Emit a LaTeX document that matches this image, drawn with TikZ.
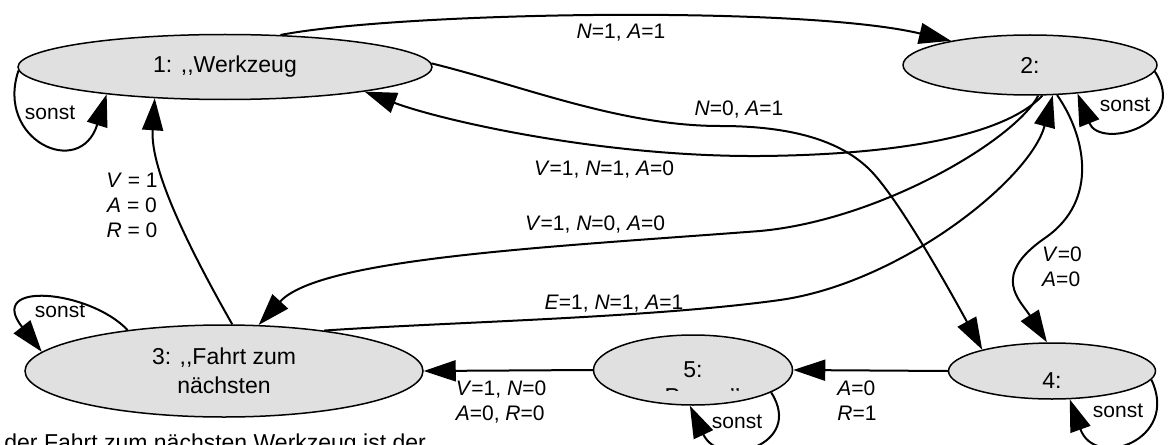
\documentclass[tikz,border=0pt]{standalone}
\usepackage{fontspec}
\setmainfont{Liberation Sans}
\usetikzlibrary{shapes.geometric,arrows.meta}
\newcommand{\vn}[1]{\textit{#1}}
\newcommand{\opq}{,\kern0pt,}
\newcommand{\clq}{'\kern0pt'}

\begin{document}
\begin{tikzpicture}[
                x=0.5pt, y=-0.5pt,
                state/.style={
                    draw=black,
                    fill=black!12,
                    ellipse,
                    line width=0.75pt,
                    inner sep=0pt,
                    align=center,
                    font=\fontsize{11.5}{14.5}\selectfont
                },
                plaintext/.style={
                    inner sep=0pt,
                    font=\fontsize{11.5}{14.5}\selectfont
                },
                lbl/.style={
                    inner sep=0pt,
                    align=left,
                    font=\fontsize{10.5}{12.5}\selectfont
                },
                arrow/.style={
                    -{Triangle[length=16pt,width=10.5pt]},
                    line width=1pt
                }
            ]
                \useasboundingbox (0,0) rectangle (1170,444);

                \node[state, minimum width=207pt, minimum height=32.5pt] (s1) at (225,67)  {1: \opq Werkzeug};
                \node[state, minimum width=127pt, minimum height=30pt]   (s2) at (1030,65) {2:};
                \node[state, minimum width=199pt, minimum height=46pt]   (s3) at (224,371) {3: \opq Fahrt zum\\nächsten};
                \node[state, minimum width=99.5pt, minimum height=35pt]  (s5) at (693,370) {5:};
                \node[state, minimum width=103.5pt, minimum height=28pt, text height=17pt, text depth=0pt] (s4) at (1052,371) {4:};

                \begin{scope}
                    \clip (594,300) rectangle (800,390);
                    \node[plaintext, anchor=base] (s5b) at (696,404) {\opq Pause\clq};
                \end{scope}

                \draw[arrow] (s1.30) .. controls (400,12) and (800,5) .. (s2.163);
                \draw[arrow] (s1.1) .. controls (520,85) and (620,126) .. (720,126) .. controls (790,126) and (840,140) .. (870,170) .. controls (900,200) and (955,300) .. (s4.163);
                \draw[arrow] (s2.292) .. controls (1000,140) and (880,155) .. (760,156) .. controls (600,157) and (440,120) .. (s1.350);
                \draw[arrow] (s2.285) .. controls (1015,140) and (880,220) .. (760,231) .. controls (550,247) and (320,258) .. (s3.53);
                \draw[arrow] (s3.22) .. controls (450,322) and (650,318) .. (780,300) .. controls (900,283) and (1030,180) .. (s2.307);
                \draw[arrow] (s2.312) .. controls (1085,135) and (1100,200) .. (1045,238) .. controls (990,276) and (1020,300) .. (s4.100);
                \draw[arrow] (s3.80) .. controls (190,250) and (150,170) .. (s1.204);
                \draw[arrow] (s5.west) -- (s3.east);
                \draw[arrow] (s4.west) -- (s5.east);

                \draw[arrow] (s1.181) .. controls (-5,140) and (80,180) .. (s1.193);
                \draw[arrow] (s2.-3) .. controls (1190,125) and (1100,150) .. (s2.329);
                \draw[arrow] (s3.157) .. controls (90,290) and (-15,280) .. (s3.174);
                \draw[arrow] (s5.-16) .. controls (805,445) and (720,470) .. (s5.265);
                \draw[arrow] (s4.-5) .. controls (1180,440) and (1095,470) .. (s4.302);

                \node[lbl] (l12) at (621,33)  {\vn{N}=1, \vn{A}=1};
                \node[lbl] (l14) at (739,110) {\vn{N}=0, \vn{A}=1};
                \node[lbl] (l21) at (604,170) {\vn{V}=1, \vn{N}=1, \vn{A}=0};
                \node[lbl] (l23) at (595,225) {\vn{V}=1, \vn{N}=0, \vn{A}=0};
                \node[lbl] (l32) at (614,304) {\vn{E}=1, \vn{N}=1, \vn{A}=1};
                \node[lbl] (l24) at (1062,267) {\vn{V}=0\\\vn{A}=0};
                \node[lbl, align=center] (l31) at (132,205) {\vn{V} = 1\\\vn{A} = 0\\\vn{R} = 0};
                \node[lbl] (l53) at (501,402) {\vn{V}=1, \vn{N}=0\\\vn{A}=0, \vn{R}=0};
                \node[lbl] (l45) at (857,401) {\vn{A}=0\\\vn{R}=1};

                \node[lbl] (ls1) at (50,113)   {sonst};
                \node[lbl] (ls2) at (1125,105) {sonst};
                \node[lbl] (ls3) at (60,311)   {sonst};
                \node[lbl] (ls5) at (737,422)  {sonst};
                \node[lbl] (ls4) at (1118,411) {sonst};

                \node[plaintext, anchor=base west] (note) at (4,450) {der Fahrt zum nächsten Werkzeug ist der};
        \end{tikzpicture}
\end{document}
